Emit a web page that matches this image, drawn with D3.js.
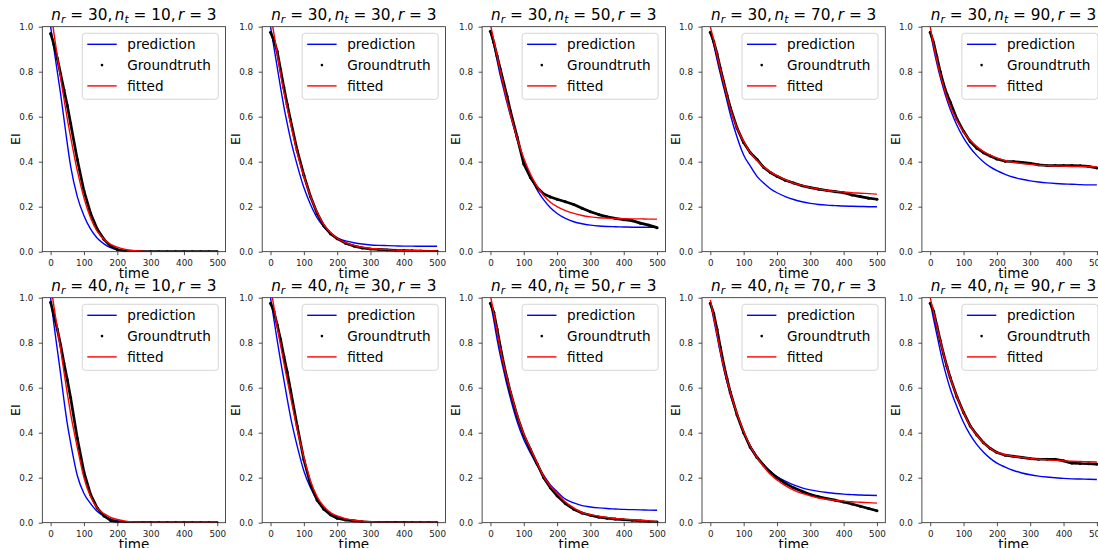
<!DOCTYPE html>
<html>
<head>
<meta charset="utf-8">
<script src="https://cdn.jsdelivr.net/npm/d3@7"></script>
<style>
  html, body { margin: 0; padding: 0; background: #fff; }
  svg { display: block; font-family: "DejaVu Sans", sans-serif; }
  .title { white-space: pre; }
</style>
</head>
<body>
<svg id="chart" width="1098" height="548"></svg>
<script>
// Sampling times shared by every curve
const timeGrid = [0,10,20,30,40,50,60,80,100,120,140,160,180,200,225,250,275,300,325,350,375,400,425,450,475,500];

// Panel parameters (row-major, 2 rows x 5 columns)
const nrValues = [30,30,30,30,30,40,40,40,40,40];
const ntValues = [10,30,50,70,90,10,30,50,70,90];
const rValue = 3;

const xTicks = [0,100,200,300,400,500];
const yTicks = [0,0.2,0.4,0.6,0.8,1.0];
const legendLabels = ["prediction","Groundtruth","fitted"];

// Model prediction per panel
const prediction = [
  [1.0,0.90,0.80,0.70,0.59,0.48,0.38,0.245,0.16,0.10,0.06,0.035,0.018,0.008,0.003,0.001,0,0,0,0,0,0,0,0,0,0],
  [1.0,0.91,0.82,0.73,0.645,0.57,0.50,0.385,0.285,0.21,0.15,0.11,0.08,0.06,0.048,0.04,0.034,0.03,0.028,0.027,0.026,0.025,0.025,0.024,0.024,0.024],
  [0.98,0.92,0.85,0.78,0.72,0.66,0.605,0.50,0.41,0.335,0.275,0.23,0.195,0.17,0.148,0.133,0.124,0.118,0.114,0.112,0.111,0.11,0.109,0.109,0.108,0.108],
  [0.98,0.92,0.855,0.79,0.73,0.67,0.61,0.51,0.43,0.38,0.335,0.305,0.28,0.262,0.245,0.232,0.222,0.215,0.21,0.207,0.205,0.203,0.202,0.201,0.2,0.2],
  [0.98,0.904,0.836,0.776,0.723,0.675,0.633,0.562,0.506,0.462,0.427,0.399,0.377,0.36,0.344,0.331,0.322,0.315,0.31,0.306,0.303,0.301,0.3,0.298,0.297,0.297],
  [1.0,0.88,0.77,0.66,0.545,0.44,0.355,0.21,0.13,0.085,0.05,0.03,0.017,0.009,0.004,0.002,0.001,0,0,0,0,0,0,0,0,0],
  [1.0,0.905,0.81,0.72,0.635,0.55,0.47,0.34,0.23,0.155,0.10,0.065,0.042,0.027,0.016,0.01,0.006,0.004,0.003,0.002,0.002,0.001,0,0,0,0],
  [0.98,0.90,0.815,0.74,0.675,0.61,0.553,0.45,0.37,0.31,0.255,0.21,0.168,0.138,0.105,0.088,0.076,0.07,0.066,0.063,0.061,0.059,0.058,0.057,0.056,0.055],
  [0.98,0.905,0.83,0.755,0.685,0.625,0.57,0.48,0.40,0.34,0.295,0.258,0.228,0.205,0.185,0.168,0.155,0.146,0.139,0.134,0.13,0.127,0.125,0.123,0.122,0.121],
  [0.98,0.905,0.835,0.765,0.70,0.645,0.595,0.515,0.445,0.39,0.347,0.313,0.286,0.265,0.247,0.232,0.221,0.213,0.207,0.203,0.2,0.197,0.195,0.194,0.193,0.192]
];

// Simulated ground truth per panel
const groundtruth = [
  [0.97,0.92,0.86,0.79,0.72,0.65,0.57,0.41,0.27,0.17,0.10,0.055,0.025,0.01,0.002,0,0,0,0,0,0,0,0,0,0,0],
  [0.975,0.94,0.89,0.81,0.73,0.655,0.585,0.45,0.34,0.245,0.17,0.115,0.08,0.058,0.038,0.025,0.017,0.012,0.01,0.008,0.006,0.005,0.004,0.003,0.002,0.002],
  [0.98,0.93,0.87,0.81,0.75,0.69,0.625,0.51,0.39,0.33,0.285,0.257,0.243,0.233,0.222,0.21,0.193,0.178,0.165,0.155,0.148,0.142,0.138,0.127,0.118,0.107],
  [0.975,0.935,0.88,0.815,0.755,0.695,0.64,0.55,0.485,0.44,0.41,0.375,0.352,0.335,0.318,0.305,0.293,0.285,0.278,0.272,0.267,0.262,0.252,0.245,0.238,0.233],
  [0.975,0.93,0.865,0.80,0.745,0.70,0.665,0.59,0.535,0.49,0.46,0.44,0.425,0.412,0.402,0.40,0.397,0.393,0.386,0.383,0.383,0.383,0.383,0.382,0.379,0.372],
  [0.98,0.92,0.86,0.79,0.71,0.635,0.555,0.375,0.225,0.125,0.065,0.03,0.01,0.003,0,0,0,0,0,0,0,0,0,0,0,0],
  [0.975,0.94,0.88,0.815,0.74,0.67,0.59,0.43,0.28,0.17,0.10,0.06,0.035,0.02,0.012,0.008,0.004,0.002,0.001,0,0,0,0,0,0,0],
  [0.975,0.935,0.86,0.78,0.705,0.64,0.58,0.475,0.39,0.325,0.262,0.2,0.155,0.12,0.085,0.06,0.043,0.033,0.025,0.02,0.016,0.013,0.011,0.008,0.005,0.003],
  [0.975,0.93,0.86,0.78,0.705,0.64,0.58,0.48,0.40,0.335,0.29,0.255,0.225,0.20,0.175,0.155,0.14,0.125,0.115,0.107,0.10,0.092,0.083,0.073,0.063,0.053],
  [0.975,0.94,0.875,0.81,0.75,0.695,0.645,0.56,0.49,0.43,0.39,0.355,0.33,0.312,0.30,0.295,0.29,0.285,0.282,0.282,0.282,0.275,0.265,0.263,0.262,0.26]
];

// Fitted curve per panel
const fitted = [
  [1.08,0.97,0.87,0.77,0.68,0.59,0.51,0.36,0.24,0.15,0.09,0.055,0.033,0.02,0.01,0.005,0.002,0,0,0,0,0,0,0,0,0],
  [1.06,0.97,0.88,0.79,0.71,0.64,0.57,0.44,0.335,0.245,0.175,0.12,0.085,0.06,0.04,0.028,0.02,0.015,0.012,0.009,0.007,0.006,0.005,0.004,0.003,0.003],
  [1.01,0.94,0.87,0.80,0.735,0.67,0.61,0.505,0.415,0.345,0.29,0.25,0.22,0.2,0.183,0.17,0.161,0.155,0.151,0.149,0.148,0.147,0.146,0.146,0.145,0.145],
  [1.0,0.94,0.875,0.81,0.75,0.69,0.635,0.55,0.49,0.44,0.405,0.377,0.355,0.338,0.32,0.305,0.295,0.285,0.278,0.272,0.268,0.265,0.262,0.26,0.258,0.256],
  [1.0,0.919,0.849,0.788,0.735,0.688,0.648,0.583,0.533,0.495,0.467,0.445,0.429,0.417,0.405,0.397,0.392,0.388,0.385,0.383,0.381,0.38,0.379,0.379,0.378,0.378],
  [1.06,0.96,0.865,0.77,0.67,0.575,0.485,0.335,0.20,0.115,0.065,0.04,0.024,0.014,0.007,0.003,0.001,0,0,0,0,0,0,0,0,0],
  [1.05,0.96,0.87,0.79,0.71,0.635,0.56,0.415,0.29,0.185,0.115,0.072,0.045,0.03,0.018,0.011,0.007,0.004,0.002,0.001,0,0,0,0,0,0],
  [1.01,0.93,0.85,0.77,0.70,0.64,0.585,0.48,0.395,0.33,0.265,0.205,0.163,0.13,0.092,0.066,0.045,0.036,0.029,0.023,0.019,0.016,0.013,0.011,0.008,0.006],
  [0.99,0.915,0.84,0.765,0.695,0.635,0.58,0.485,0.405,0.34,0.29,0.25,0.215,0.19,0.165,0.145,0.13,0.119,0.11,0.104,0.099,0.096,0.093,0.091,0.089,0.087],
  [1.0,0.935,0.87,0.81,0.75,0.695,0.645,0.56,0.49,0.43,0.39,0.355,0.33,0.313,0.302,0.295,0.29,0.286,0.282,0.279,0.277,0.275,0.273,0.272,0.271,0.27]
];

// Layout of the subplot grid
const axLeft0 = 42.3, axStep = 219.9, axW = 183.3, axH = 225;
const rowTops = [26.7, 297.7];
const nCols = 5;

const svg = d3.select("#chart");

const x = d3.scaleLinear().domain([-25, 525]).range([0, axW]);
const y = d3.scaleLinear().domain([0, 1]).range([axH, 0]);

const line = d3.line()
  .x((d, i) => x(timeGrid[i]))
  .y(d => y(d))
  .curve(d3.curveMonotoneX);
const gtLine = d3.line()
  .x((d, i) => x(timeGrid[i]))
  .y(d => y(d));

nrValues.forEach((nr, p) => {
  const col = p % nCols, row = Math.floor(p / nCols);
  const g = svg.append("g")
    .attr("transform", `translate(${axLeft0 + col * axStep},${rowTops[row]})`);

  const clipId = `clip-${p}`;
  g.append("clipPath").attr("id", clipId)
    .append("rect").attr("x", 0).attr("y", 0).attr("width", axW).attr("height", axH);

  // Axes with ticks
  const xAxis = g.append("g").attr("transform", `translate(0,${axH})`)
    .call(d3.axisBottom(x).tickValues(xTicks).tickFormat(d3.format("d")).tickSize(3.5).tickPadding(4.5));
  const yAxis = g.append("g")
    .call(d3.axisLeft(y).tickValues(yTicks).tickFormat(d3.format(".1f")).tickSize(3.5).tickPadding(5.5));
  [xAxis, yAxis].forEach(a => {
    a.select(".domain").remove();
    a.selectAll(".tick line").attr("stroke", "#222").attr("stroke-width", 0.8);
    a.selectAll(".tick text").attr("fill", "#222").style("font-size", "8.8px")
      .style("font-family", "DejaVu Sans, sans-serif");
  });

  const plot = g.append("g").attr("clip-path", `url(#${clipId})`);

  plot.append("path").datum(prediction[p])
    .attr("fill", "none").attr("stroke", "#0000ff").attr("stroke-width", 1.4)
    .attr("d", line);

  plot.append("path").datum(groundtruth[p])
    .attr("fill", "none").attr("stroke", "#000").attr("stroke-width", 2.7)
    .attr("stroke-linejoin", "round")
    .attr("d", gtLine);
  plot.selectAll("circle.gt").data(groundtruth[p]).join("circle")
    .attr("class", "gt")
    .attr("cx", (d, i) => x(timeGrid[i]))
    .attr("cy", d => y(d))
    .attr("r", 1.5).attr("fill", "#000");

  plot.append("path").datum(fitted[p])
    .attr("fill", "none").attr("stroke", "#ff0000").attr("stroke-width", 1.4)
    .attr("d", line);

  // Spines
  g.append("rect").attr("x", 0).attr("y", 0).attr("width", axW).attr("height", axH)
    .attr("fill", "none").attr("stroke", "#222").attr("stroke-width", 0.8);

  // Title in math style: n_r = .., n_t = .., r = ..
  const t = g.append("text").attr("class", "title")
    .attr("x", axW / 2).attr("y", -7)
    .attr("text-anchor", "middle")
    .style("font-size", "15.3px").attr("fill", "#000");
  t.append("tspan").style("font-style", "italic").text("n");
  t.append("tspan").style("font-style", "italic").style("font-size", "10.7px").attr("dy", 3.2).text("r");
  t.append("tspan").attr("dy", -3.2).text(` = ${nr},`);
  t.append("tspan").style("font-style", "italic").attr("dx", 2.5).text("n");
  t.append("tspan").style("font-style", "italic").style("font-size", "10.7px").attr("dy", 3.2).text("t");
  t.append("tspan").attr("dy", -3.2).text(` = ${ntValues[p]},`);
  t.append("tspan").style("font-style", "italic").attr("dx", 2.5).text("r");
  t.append("tspan").text(` = ${rValue}`);

  // Axis labels
  g.append("text").attr("x", axW / 2).attr("y", axH + 26)
    .attr("text-anchor", "middle").style("font-size", "13.5px").attr("fill", "#000").text("time");
  g.append("text").attr("transform", `translate(-22.3,${axH / 2}) rotate(-90)`)
    .attr("text-anchor", "middle").style("font-size", "12.6px").attr("fill", "#000").text("EI");

  // Legend
  const lg = g.append("g").attr("transform", `translate(${axW - 7.3 - 136},6.6)`);
  lg.append("rect").attr("width", 136).attr("height", 66).attr("rx", 3)
    .attr("fill", "#fff").attr("fill-opacity", 0.8)
    .attr("stroke", "#cccccc").attr("stroke-width", 0.8);
  const rowY = [11, 31.8, 52.6];
  legendLabels.forEach((lab, i) => {
    if (i === 1) {
      lg.append("circle").attr("cx", 19.7).attr("cy", rowY[i]).attr("r", 1.3).attr("fill", "#000");
    } else {
      lg.append("line").attr("x1", 5).attr("x2", 34.4).attr("y1", rowY[i]).attr("y2", rowY[i])
        .attr("stroke", i === 0 ? "#0000ff" : "#ff0000").attr("stroke-width", 1.4);
    }
    lg.append("text").attr("x", 45).attr("y", rowY[i] + 5)
      .style("font-size", "13.6px").attr("fill", "#000").text(lab);
  });
});
</script>
</body>
</html>
